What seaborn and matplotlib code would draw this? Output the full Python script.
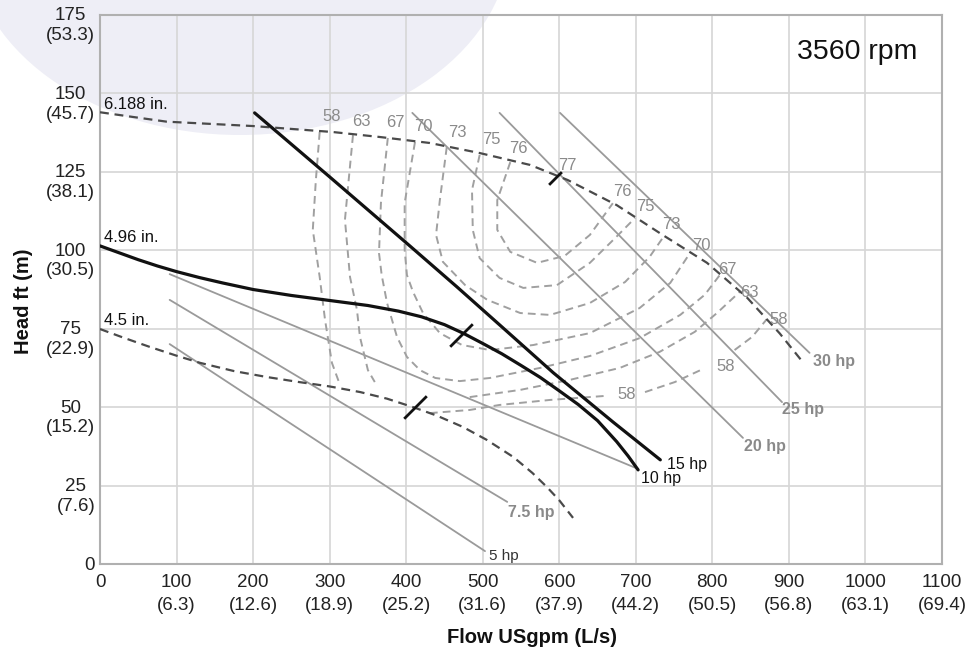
import matplotlib
matplotlib.use("Agg")
import matplotlib.pyplot as plt
import matplotlib.transforms as mtransforms
from matplotlib.patches import Ellipse
import seaborn as sns

# ---------------- axis ticks ----------------
flow_ticks = [0, 100, 200, 300, 400, 500, 600, 700, 800, 900, 1000, 1100]
flow_ls = ["", "(6.3)", "(12.6)", "(18.9)", "(25.2)", "(31.6)", "(37.9)",
           "(44.2)", "(50.5)", "(56.8)", "(63.1)", "(69.4)"]
head_ticks = [0, 25, 50, 75, 100, 125, 150, 175]
head_m = ["", "(7.6)", "(15.2)", "(22.9)", "(30.5)", "(38.1)", "(45.7)", "(53.3)"]

# ---------------- impeller curves (USgpm, ft) ----------------
imp6188_q = [0, 43, 87, 200, 304, 366, 431, 496, 562, 611, 675, 735, 793, 845, 888, 918]
imp6188_h = [144.0, 142.5, 141.0, 139.6, 137.7, 136.1, 134.2, 131.0, 127.2, 122.4,
             114.4, 104.9, 96.0, 85.0, 73.5, 64.4]
imp496_q = [0, 25, 50, 75, 100, 130, 160, 200, 250, 300, 350, 390, 420, 450, 475, 500,
            525, 550, 575, 600, 625, 650, 675, 690, 703]
imp496_h = [101.4, 99.2, 97.0, 95.0, 93.2, 91.3, 89.6, 87.5, 85.6, 84.0, 82.4, 80.6, 78.8,
            76.3, 73.5, 70.3, 67.0, 63.3, 59.5, 55.2, 50.8, 45.7, 39.0, 34.4, 30.0]
imp45_q = [0, 30, 65, 100, 131, 175, 218, 260, 300, 340, 375, 409, 440, 474, 505, 540,
           565, 584, 600, 618]
imp45_h = [74.9, 72.2, 69.2, 66.4, 64.1, 61.5, 59.6, 58.0, 56.6, 54.8, 52.7, 50.0, 47.3,
           43.7, 39.6, 34.1, 29.0, 24.5, 20.3, 14.7]

# ---------------- power lines ----------------
hp5_q, hp5_h = [91, 503], [70.1, 4.1]
hp75_q, hp75_h = [91, 532], [84.2, 19.8]
hp10_q, hp10_h = [91, 703], [92.4, 30.3]
hp15_q = [202, 300, 400, 466, 530, 592, 670, 732]
hp15_h = [143.8, 123.4, 102.4, 88.4, 74.5, 61.0, 45.3, 33.2]
hp20_q, hp20_h = [408, 840], [143.8, 40.2]
hp25_q, hp25_h = [522, 891], [143.8, 51.6]
hp30_q, hp30_h = [601, 927], [143.8, 67.3]

# ---------------- efficiency contours ----------------
eff76_q = [536, 519, 519, 536, 571, 607, 640, 670]
eff76_h = [128.1, 116.0, 106.5, 99.5, 96.0, 98.2, 104.9, 115.0]
eff75_q = [496, 486, 487, 496, 522, 553, 597, 640, 673, 699]
eff75_h = [130.4, 119.2, 106.5, 97.5, 91.2, 88.0, 88.9, 96.0, 103.9, 110.3]
eff73_q = [453, 444, 439, 448, 477, 506, 549, 588, 640, 686, 718, 737]
eff73_h = [132.9, 116.0, 104.9, 96.3, 88.9, 84.2, 80.0, 79.4, 83.2, 89.9, 97.9, 104.6]
eff70_q = [411.5, 398, 398, 401, 409, 422, 444, 473, 509.5, 566, 640, 705, 745, 771]
eff70_h = [134.5, 115.1, 100.1, 92.1, 86.7, 80.0, 73.6, 69.8, 68.2, 69.8, 73.6, 81.6, 89.6, 99.2]
eff67_q = [376, 367, 364.5, 368, 375, 388, 401, 418, 438, 470, 509.5, 575, 640, 705, 758, 790, 810]
eff67_h = [135.8, 115.1, 99.1, 92.1, 83.2, 72.4, 66.0, 61.8, 59.3, 58.3, 59.3, 62.5, 66.3,
           72.0, 79.4, 85.8, 92.2]
eff63a_q = [330.5, 324, 320, 326.6, 335.7, 339.6, 350, 359]
eff63a_h = [136.7, 120.2, 109.7, 91.5, 81.0, 72.4, 61.8, 58.0]
eff63b_q = [483, 549, 614, 679, 731, 777, 806, 836]
eff63b_h = [53.2, 55.5, 58.7, 62.5, 67.6, 74.0, 80.0, 86.8]
eff58a_q = [287, 282, 278, 287, 294, 303, 313.5]
eff58a_h = [137.7, 122.4, 106.5, 91.5, 77.8, 64.1, 57.1]
eff58b_q = [431, 483, 522, 588, 661]
eff58b_h = [48.1, 49.1, 50.7, 52.3, 53.6]
eff58c_q = [712, 751, 788]
eff58c_h = [54.8, 58.0, 62.2]
eff58d_q = [829, 852, 871]
eff58d_h = [68.2, 72.4, 78.0]

# best efficiency points (tick marks)
bep_q = [595, 472, 411]
bep_h = [123.0, 73.0, 50.0]

# efficiency labels
eff_top_lab = ["58", "63", "67", "70", "73", "75", "76", "77"]
eff_top_q = [303, 342, 386, 423, 467, 511, 546, 610]
eff_top_h = [142.5, 141.2, 140.6, 139.6, 137.4, 135.2, 132.6, 126.9]
eff_right_lab = ["76", "75", "73", "70", "67", "63", "58"]
eff_right_q = [683, 712, 747, 785, 819, 849, 886]
eff_right_h = [118.6, 113.8, 108.1, 101.4, 94.0, 86.7, 77.8]
eff_low_lab = ["58", "58"]
eff_low_q = [688, 817]
eff_low_h = [53.9, 62.8]

# ---------------- styling ----------------
sns.set_theme(style="whitegrid")
plt.rcParams['font.family'] = ['Liberation Sans', 'DejaVu Sans']

fig = plt.figure(figsize=(9.69, 6.52), dpi=100)
fig.patch.set_facecolor('white')
ax = fig.add_axes([100 / 969, 1 - 564 / 652, 842 / 969, 549 / 652])
ax.set_facecolor('none')

wm = Ellipse((240 / 969, 1 + 60 / 652), 540 / 969, 390 / 652, transform=fig.transFigure,
             facecolor='#eeeef6', edgecolor='none', zorder=-5)
fig.add_artist(wm)

DASH = (0, (4, 2.6))
GRAY = '#9a9a9a'
LBLGRAY = '#8a8a8a'


def draw(q, h, color, lw, ls='-', z=3):
    sns.lineplot(x=q, y=h, ax=ax, sort=False, estimator=None, color=color,
                 linewidth=lw, linestyle=ls, zorder=z)


# power lines (gray)
for q, h in [(hp5_q, hp5_h), (hp75_q, hp75_h), (hp10_q, hp10_h),
             (hp20_q, hp20_h), (hp25_q, hp25_h), (hp30_q, hp30_h)]:
    draw(q, h, GRAY, 1.3, '-', 2)

# efficiency contours
for q, h in [(eff76_q, eff76_h), (eff75_q, eff75_h), (eff73_q, eff73_h), (eff70_q, eff70_h),
             (eff67_q, eff67_h), (eff63a_q, eff63a_h), (eff63b_q, eff63b_h),
             (eff58a_q, eff58a_h), (eff58b_q, eff58b_h), (eff58c_q, eff58c_h),
             (eff58d_q, eff58d_h)]:
    draw(q, h, '#a0a0a0', 1.4, DASH, 2.5)

# impeller curves
draw(imp6188_q, imp6188_h, '#4a4a4a', 1.6, DASH, 4)
draw(imp45_q, imp45_h, '#4a4a4a', 1.6, DASH, 4)
draw(imp496_q, imp496_h, '#111111', 2.3, '-', 5)
draw(hp15_q, hp15_h, '#111111', 2.3, '-', 5)

# BEP tick marks
bep_size = [13, 23, 23]
for q, h, s in zip(bep_q, bep_h, bep_size):
    ax.plot([q], [h], ls='none', marker=(2, 0, -45), ms=s, mec='#111111', mew=2.0, zorder=6)

# efficiency labels
for lab, q, h in zip(eff_top_lab + eff_right_lab + eff_low_lab,
                     eff_top_q + eff_right_q + eff_low_q,
                     eff_top_h + eff_right_h + eff_low_h):
    ax.text(q, h, lab, fontsize=12, color=LBLGRAY, ha='center', va='center', zorder=7)

# hp labels
ax.text(932, 64.4, "30 hp", fontsize=11.5, fontweight='bold', color=LBLGRAY, ha='left', va='center')
ax.text(891, 49.1, "25 hp", fontsize=11.5, fontweight='bold', color=LBLGRAY, ha='left', va='center')
ax.text(841, 37.3, "20 hp", fontsize=11.5, fontweight='bold', color=LBLGRAY, ha='left', va='center')
ax.text(533, 16.3, "7.5 hp", fontsize=11.5, fontweight='bold', color=LBLGRAY, ha='left', va='center')
ax.text(741, 31.6, "15 hp", fontsize=11.5, color='#111111', ha='left', va='center')
ax.text(707, 27.4, "10 hp", fontsize=11.5, color='#111111', ha='left', va='center')
ax.text(508, 2.6, "5 hp", fontsize=11, color='#333333', ha='left', va='center')

# impeller labels
ax.text(5, 146.6, "6.188 in.", fontsize=12, color='#111111', ha='left', va='center')
ax.text(5, 104.2, "4.96 in.", fontsize=12, color='#111111', ha='left', va='center')
ax.text(5, 77.5, "4.5 in.", fontsize=12, color='#111111', ha='left', va='center')

ax.text(989, 163.2, "3560 rpm", fontsize=20.5, color='#111111', ha='center', va='center')

# axes
ax.set_xlim(0, 1100)
ax.set_ylim(0, 175)
ax.set_xticks(flow_ticks)
ax.set_xticklabels([f"{t}\n{m}" if m else f"{t}" for t, m in zip(flow_ticks, flow_ls)],
                   fontsize=13.5, color='#222222', linespacing=1.45)
ax.set_yticks(head_ticks)
ax.set_yticklabels([f"{t}\n{m}" if m else f"{t}" for t, m in zip(head_ticks, head_m)],
                   fontsize=13.5, color='#222222', linespacing=1.2, multialignment='center')
ax.tick_params(axis='x', length=0, pad=7)
ax.tick_params(axis='y', length=0, pad=3.5)
off = mtransforms.ScaledTranslation(0, 0.075, fig.dpi_scale_trans)
for lbl in ax.get_yticklabels():
    lbl.set_va('top')
    lbl.set_transform(lbl.get_transform() + off)

ax.grid(True, color='#d6d6d6', linewidth=1.2)
for sp in ax.spines.values():
    sp.set_visible(True)
    sp.set_color('#b0b0b0')
    sp.set_linewidth(1.5)

ax.set_xlabel("Flow USgpm (L/s)", fontsize=14.5, fontweight='bold', color='#111111')
ax.set_ylabel("Head ft (m)", fontsize=14.5, fontweight='bold', color='#111111')
ax.xaxis.set_label_coords((532 - 100) / 842, -(628 - 564) / 549)
ax.yaxis.set_label_coords((33 - 100) / 842, (564 - 301) / 549)

fig.savefig("out.png", dpi=100, facecolor='white')
